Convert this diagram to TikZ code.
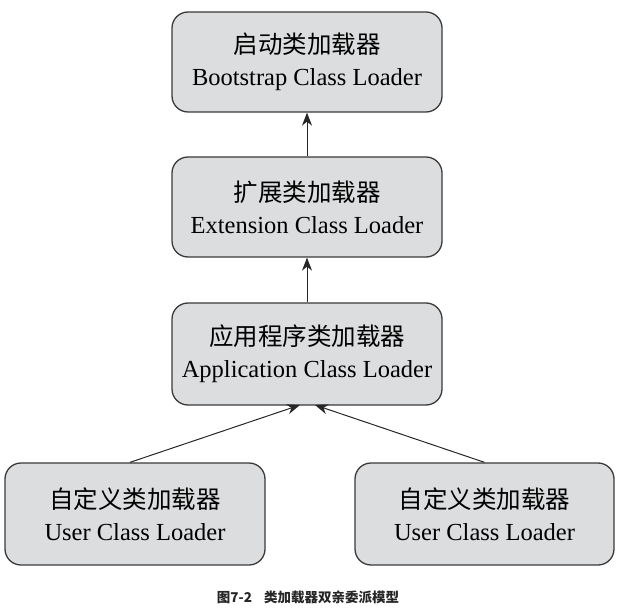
\documentclass[tikz,border=0pt]{standalone}
\usepackage{fontspec}
\setmainfont{Liberation Serif}
\newfontfamily\cjk{Noto Sans CJK SC}
\usetikzlibrary{arrows.meta}
\definecolor{boxfill}{HTML}{DCDDDE}
\definecolor{boxline}{HTML}{3A3A3A}
\tikzset{
  loaderbox/.style={draw=boxline, fill=boxfill, line width=1.3pt, rounded corners=16pt,
    minimum height=100pt, align=center, inner sep=0pt,
    font=\fontsize{24.5}{32}\selectfont},
  parentarrow/.style={line width=1pt, draw=black!85, -{Stealth[length=13pt,width=10pt,inset=4pt]}},
  captiontext/.style={font=\cjk\bfseries\fontsize{13.5}{15}\selectfont, text=black!85}
}
\begin{document}
\begin{tikzpicture}[x=1pt,y=-1pt]
\useasboundingbox (0,0) rectangle (626,612);
\node[loaderbox, minimum width=270pt] (boot) at (307,62) {{\cjk 启动类加载器}\\Bootstrap Class Loader};
\node[loaderbox, minimum width=270pt] (ext) at (307,207) {{\cjk 扩展类加载器}\\Extension Class Loader};
\node[loaderbox, minimum width=270pt, minimum height=102pt] (app) at (307,354) {{\cjk 应用程序类加载器}\\Application Class Loader};
\node[loaderbox, minimum width=260pt, minimum height=102pt] (user1) at (135,514) {{\cjk 自定义类加载器}\\User Class Loader};
\node[loaderbox, minimum width=259pt, minimum height=102pt] (user2) at (484.5,514) {{\cjk 自定义类加载器}\\User Class Loader};
\coordinate (appL) at (300,405);
\coordinate (appR) at (315,405);
\draw[parentarrow] (ext.north) -- (boot.south);
\draw[parentarrow] (app.north) -- (ext.south);
\draw[parentarrow] ([xshift=-5pt]user1.north) -- (appL);
\draw[parentarrow] (user2.north) -- (appR);
\node[captiontext] (cap) at (308,597) {图7-2\hspace{12pt}类加载器双亲委派模型};
\end{tikzpicture}
\end{document}
